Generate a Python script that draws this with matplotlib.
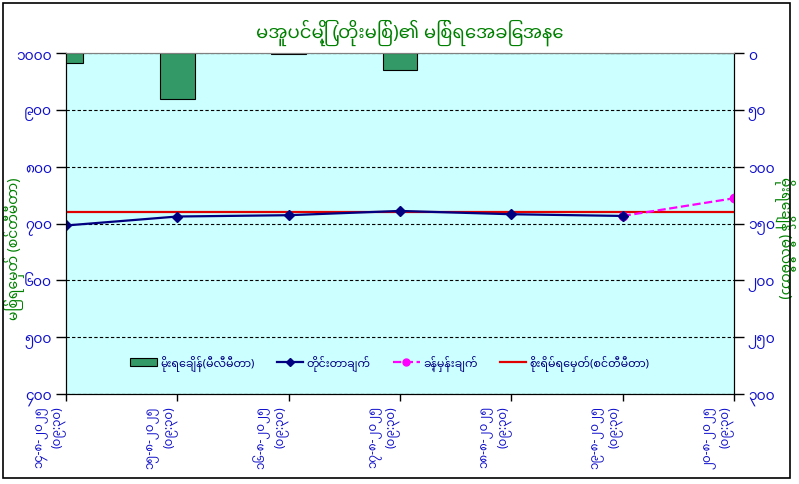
import numpy as np
import matplotlib
matplotlib.use("Agg")
import matplotlib.pyplot as plt
from matplotlib.patches import Rectangle
from matplotlib.lines import Line2D

plt.rcParams['font.family'] = ['Noto Sans Myanmar', 'Padauk', 'Myanmar Text', 'DejaVu Sans']

# ── Data ────────────────────────────────────────────────────────────────────
x_labels = [
    "၁၄-၈-၂၀၂၅\n(၀၉:၃၀)",
    "၁၅-၈-၂၀၂၅\n(၀၉:၃၀)",
    "၁၆-၈-၂၀၂၅\n(၀၉:၃၀)",
    "၁၇-၈-၂၀၂၅\n(၀၉:၃၀)",
    "၁၈-၈-၂၀၂၅\n(၀၉:၃၀)",
    "၁၉-၈-၂၀၂၅\n(၀၉:၃၀)",
    "၂၀-၈-၂၀၂၅\n(၀၉:၃၀)",
]
rain_mm   = [8.5, 40.5, 0.6, 14.6, 0, 0, 0]
measured  = [696.5, 712.3, 714.6, 722.1, 716.3, 713.3, np.nan]
forecast  = [np.nan, np.nan, np.nan, np.nan, np.nan, 713.3, 744.4]
danger    = [720] * 7

left_ticks  = [400, 500, 600, 700, 800, 900, 1000]
right_ticks = [0, 50, 100, 150, 200, 250, 300]

title   = "မအူပင်မြို့ (တိုးမြစ်)၏ မြစ်ရေအခြေအနေ"
ylabel  = "မြစ်ရေမှတ် (စင်တီမီတာ)"
y2label = "မိုးရေချိန် (မီလီမီတာ)"
legend_labels = ["မိုးရေချိန်(မီလီမီတာ)", "တိုင်းတာချက်", "ခန့်မှန်းချက်", "စိုးရိမ်ရေမှတ်(စင်တီမီတာ)"]

MM = str.maketrans("0123456789", "၀၁၂၃၄၅၆၇၈၉")
def mm(v):
    return str(int(v)).translate(MM)

GREEN = '#008000'
BLUE  = '#1010CC'

# ── Figure ──────────────────────────────────────────────────────────────────
fig = plt.figure(figsize=(7.99, 4.85), dpi=100)
fig.patches.append(Rectangle((3 / 799, 1 - 479 / 485), 787 / 799, 475 / 485,
                             transform=fig.transFigure, fill=False,
                             edgecolor='black', linewidth=1.2))

ax = fig.add_axes([66 / 799, 1 - 395 / 485, 668 / 799, 341 / 485])
ax.set_facecolor('#CCFFFF')
ax2 = ax.twinx()

x = np.arange(len(x_labels))

ax.plot(x, danger, color='#E00000', linewidth=1.6, zorder=3)
ax.plot(x, forecast, color='#FF00FF', linestyle='--', linewidth=1.6,
        marker='o', markersize=6, zorder=4)
ax.plot(x, measured, color='#000080', linewidth=1.6,
        marker='D', markersize=5, zorder=5)

ax2.bar(x, rain_mm, width=0.31, color='#339966', edgecolor='black', linewidth=0.8)

ax.set_xlim(0, 6)
ax.set_ylim(400, 1000)
ax2.set_ylim(300, 0)

ax.set_yticks(left_ticks)
ax.set_yticklabels([mm(v) for v in left_ticks], fontweight='bold')
ax2.set_yticks(right_ticks)
ax2.set_yticklabels([mm(v) for v in right_ticks], fontweight='bold')

ax.set_xticks(x)
ax.set_xticklabels(x_labels, rotation=90, ha='right', va='top',
                   multialignment='right', fontsize=8.5, color=BLUE,
                   fontweight='bold')

ax.grid(axis='y', color='black', linestyle=(0, (3, 2)), linewidth=0.8)
ax.set_axisbelow(True)

for a in (ax, ax2):
    a.tick_params(axis='y', colors='black', labelcolor=BLUE, labelsize=10,
                  direction='out', length=7, width=1, pad=3)
    a.spines['top'].set_color('#808080')
    for s in ('left', 'right', 'bottom'):
        a.spines[s].set_color('black')
ax.tick_params(axis='x', direction='out', length=5, width=1, pad=3)

ax.set_ylabel(ylabel, color=GREEN, fontsize=10, fontweight='bold', va='center')
ax.yaxis.set_label_coords(-0.078, 0.43)
ax2.set_ylabel(y2label, color=GREEN, fontsize=10, fontweight='bold', rotation=270,
               va='center')
ax2.yaxis.set_label_coords(1.076, 0.46)

fig.text(410 / 799, 1 - 33 / 485, title, ha='center', va='center',
         fontsize=13, fontweight='bold', color=GREEN)

handles = [
    Rectangle((0, 0), 1, 1, facecolor='#339966', edgecolor='black', linewidth=0.8),
    Line2D([], [], color='#000080', linewidth=1.6, marker='D', markersize=4),
    Line2D([], [], color='#FF00FF', linestyle='--', linewidth=1.6, marker='o', markersize=5),
    Line2D([], [], color='#E00000', linewidth=1.6),
]
leg = ax2.legend(handles, legend_labels, loc='center', bbox_to_anchor=(0.485, 0.091),
                 ncol=4, frameon=False, fontsize=8, handlelength=2.4,
                 columnspacing=2.0, handletextpad=0.3)
for t in leg.get_texts():
    t.set_color('#000080')
    t.set_fontweight('bold')

fig.savefig('out.png', dpi=100)
